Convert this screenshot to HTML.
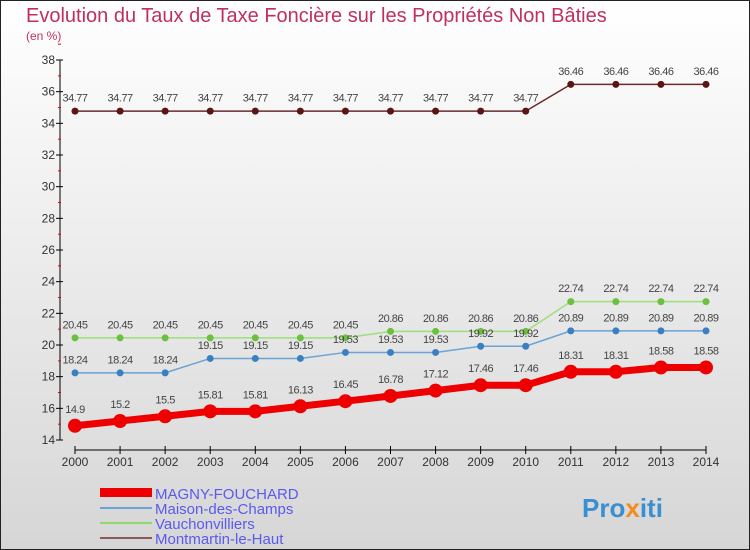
<!DOCTYPE html>
<html><head><meta charset="utf-8"><style>
body{margin:0;}
#c{width:750px;height:550px;position:relative;box-sizing:border-box;border:1px solid #222;background:linear-gradient(#ffffff,#d6d6d6);font-family:"Liberation Sans",sans-serif;overflow:hidden}
svg text{font-family:"Liberation Sans",sans-serif}
</style></head><body>
<div id="c">
<svg id="s" width="750" height="550" style="position:absolute;left:-1px;top:-1px">
<text x="26" y="22" font-size="20" fill="#c0305e">Evolution du Taux de Taxe Foncière sur les Propriétés Non Bâties</text>
<text x="26" y="40" font-size="12" fill="#c0305e">(en %)</text>
<g id="axes"></g><g id="series"></g>
<g>
<rect x="100" y="488" width="52" height="9" fill="#e00"/>
<text x="155" y="499" font-size="15" fill="#5a5aee">MAGNY-FOUCHARD</text>
<rect x="100" y="507" width="52" height="2" fill="#6aa3d5"/>
<text x="155" y="514" font-size="15" fill="#5a5aee">Maison-des-Champs</text>
<rect x="100" y="522" width="52" height="2" fill="#8fd86a"/>
<text x="155" y="529" font-size="15" fill="#5a5aee">Vauchonvilliers</text>
<rect x="100" y="537" width="52" height="2" fill="#8a5a5a"/>
<text x="155" y="544" font-size="15" fill="#5a5aee">Montmartin-le-Haut</text>
</g>
<text x="582" y="517" font-size="26" font-weight="bold" fill="#3a8fd0">Pro<tspan fill="#f28c1e">x</tspan>iti</text>
</svg>
</div>
<script>
const years=[2000,2001,2002,2003,2004,2005,2006,2007,2008,2009,2010,2011,2012,2013,2014];
const yTicks=[14,16,18,20,22,24,26,28,30,32,34,36,38];
const magny=[14.9,15.2,15.5,15.81,15.81,16.13,16.45,16.78,17.12,17.46,17.46,18.31,18.31,18.58,18.58];
const maison=[18.24,18.24,18.24,19.15,19.15,19.15,19.53,19.53,19.53,19.92,19.92,20.89,20.89,20.89,20.89];
const vauchon=[20.45,20.45,20.45,20.45,20.45,20.45,20.45,20.86,20.86,20.86,20.86,22.74,22.74,22.74,22.74];
const montmartin=[34.77,34.77,34.77,34.77,34.77,34.77,34.77,34.77,34.77,34.77,34.77,36.46,36.46,36.46,36.46];
const NS="http://www.w3.org/2000/svg";
function x(i){return 75+i*(706-75)/(years.length-1);}
function y(v){return 440-(v-14)*380/24;}
function mk(tag,attrs,parent){const e=document.createElementNS(NS,tag);for(const k in attrs)e.setAttribute(k,attrs[k]);parent.appendChild(e);return e;}
const ax=document.getElementById('axes');
const yl=mk('line',{x1:60,y1:60,x2:60,y2:440,stroke:'#000'},ax);


yTicks.forEach(t=>{
 mk('line',{x1:56,y1:y(t),x2:63,y2:y(t),stroke:'#000'},ax);
 mk('line',{x1:58,y1:y(t+1),x2:61,y2:y(t+1),stroke:'#e00'},ax);
 const tx=mk('text',{x:55,y:y(t)+4,'font-size':12,fill:'#333','text-anchor':'end'},ax);
 tx.textContent=t;
 
 
});
const xl=mk('line',{x1:75,y1:450,x2:706,y2:450,stroke:'#000'},ax);


years.forEach((yr,i)=>{
 mk('line',{x1:x(i),y1:446,x2:x(i),y2:454,stroke:'#000'},ax);
 const tx=mk('text',{x:x(i),y:466,'font-size':12,fill:'#333','text-anchor':'middle'},ax);
 tx.textContent=yr;
 
 
});
const sg=document.getElementById('series');
function draw(data,name,color,dot,w,r,fmt){
 const g=mk('g',{},sg);
 
 
 const p=mk('polyline',{points:data.map((v,i)=>x(i)+','+y(v)).join(' '),fill:'none',stroke:color,'stroke-width':w},g);
 
 
 data.forEach((v,i)=>{
  const c=mk('circle',{cx:x(i),cy:y(v),r:r,fill:dot},g);
  
  
  const t=mk('text',{x:x(i),y:y(v)-(r+6),'font-size':11,fill:'#444','text-anchor':'middle','letter-spacing':'-0.5'},g);
  t.textContent=String(v).replace('.',fmt?'.':'');
  t.textContent=String(v);
  
  
 });
}
draw(montmartin,'montmartin','#6b2a2a','#5a1515',1.5,3.5);
draw(vauchon,'vauchonvilliers','#9be07a','#6cc040',1.5,3.5);
draw(maison,'maison-des-champs','#6aa3d5','#3c7fc0',1.5,3.5);
draw(magny,'magny-fouchard','#ee0000','#ee0000',7,7);
</script>
</body></html>
